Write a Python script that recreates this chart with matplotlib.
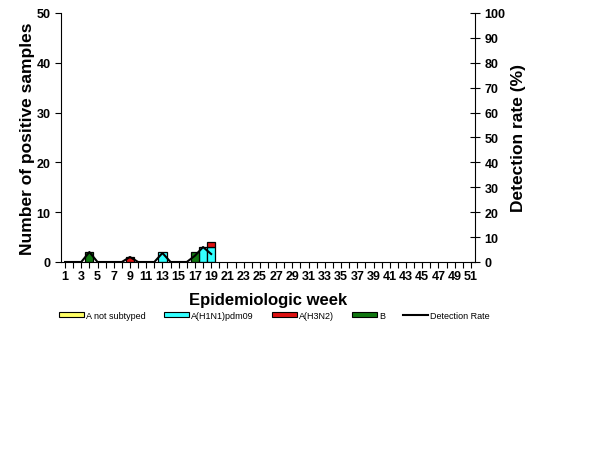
import matplotlib
matplotlib.use("Agg")
import matplotlib.pyplot as plt
from matplotlib.patches import Patch
from matplotlib.lines import Line2D
import numpy as np

plt.rcParams["font.family"] = ["Liberation Sans", "DejaVu Sans"]
plt.rcParams["font.weight"] = "bold"

weeks = np.arange(1, 52)
# positives per week (weeks 1..19 reported, rest zero)
a_not_sub = [0] * 19
h1n1 = [0, 0, 0, 0, 0, 0, 0, 0, 0, 0, 0, 0, 2, 0, 0, 0, 0, 3, 3]
h3n2 = [0, 0, 0, 0, 0, 0, 0, 0, 1, 0, 0, 0, 0, 0, 0, 0, 0, 0, 1]
flu_b = [0, 0, 0, 2, 0, 0, 0, 0, 0, 0, 0, 0, 0, 0, 0, 0, 2, 0, 0]
det_rate = [0, 0, 0, 4, 0, 0, 0, 0, 2, 0, 0, 0, 3.6, 0, 0, 0, 2.5, 6, 3.2]

series = [("A not subtyped", a_not_sub, "#FFFF66"),
          ("A(H1N1)pdm09", h1n1, "#33FFFF"),
          ("A(H3N2)", h3n2, "#DD1111"),
          ("B", flu_b, "#117711")]

fig = plt.figure(figsize=(6.14, 4.6), dpi=100)
ax = fig.add_axes([0.0993, 0.4283, 0.6743, 0.5413])
ax2 = ax.twinx()

wk = np.arange(1, len(h1n1) + 1)
bottom = np.zeros(len(wk))
for name, vals, col in series:
    v = np.array(vals, dtype=float)
    m = v > 0
    ax.bar(wk[m], v[m], width=1.0, bottom=bottom[m], color=col,
           edgecolor="black", linewidth=0.9, zorder=2)
    bottom += v

ax2.plot(wk, det_rate, color="black", lw=1.5, zorder=3)

ax.set_xlim(0.5, 51.5)
ax.set_ylim(0, 50)
ax2.set_ylim(0, 100)
ax.set_yticks(range(0, 51, 10))
ax2.set_yticks(range(0, 101, 10))
ax.set_xticks(weeks)
ax.set_xticklabels([str(w) if w % 2 == 1 else "" for w in weeks])

for a in (ax, ax2):
    a.spines["top"].set_visible(False)
ax.spines["right"].set_visible(False)
ax2.spines["left"].set_visible(False)
ax2.spines["bottom"].set_visible(False)
ax.tick_params(axis="x", direction="out", length=4, width=0.8, labelsize=9, pad=2)
ax.tick_params(axis="y", direction="out", length=4, width=0.8, labelsize=9)
ax2.tick_params(axis="y", direction="inout", length=7, width=0.8, labelsize=9)
for a in (ax, ax2):
    for lab in a.get_xticklabels() + a.get_yticklabels():
        lab.set_fontweight("bold")

ax.set_ylabel("Number of positive samples", fontsize=12.5, fontweight="bold", labelpad=1)
ax2.set_ylabel("Detection rate (%)", fontsize=12.5, fontweight="bold", labelpad=4)
ax.set_xlabel("Epidemiologic week", fontsize=12, fontweight="bold", labelpad=7)

handles = [Patch(facecolor=c, edgecolor="black", linewidth=0.8, label=n) for n, _, c in series]
handles.append(Line2D([0], [0], color="black", lw=1.5, label="Detection Rate"))
leg = fig.legend(handles=handles, loc="center", bbox_to_anchor=(0.447, 0.313), ncol=5,
                 frameon=False, fontsize=6.5, handlelength=2.8, handleheight=0.5,
                 handletextpad=0.2, columnspacing=2.0)
for t in leg.get_texts():
    t.set_fontweight("normal")

fig.savefig("out.png", dpi=100)
